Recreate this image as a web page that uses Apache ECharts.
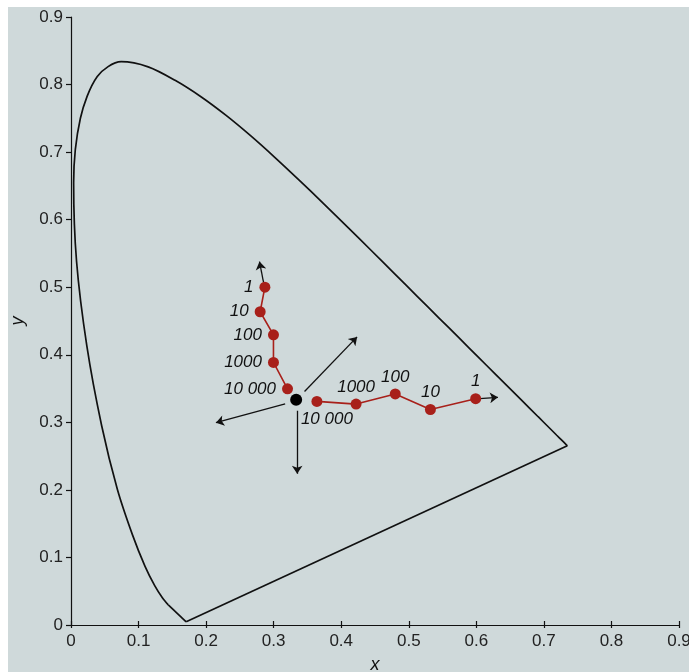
<!DOCTYPE html>
<html>
<head>
<meta charset="utf-8">
<script src="https://cdn.jsdelivr.net/npm/echarts@6/dist/echarts.min.js"></script>
<style>
  html, body { margin: 0; padding: 0; background: #fff; }
  #chart { width: 689px; height: 672px; }
</style>
</head>
<body>
<div id="chart"></div>
<script>
// spectral locus (x, y) from the blue end to the red end
const locus = [
  [0.1440, 0.0297], [0.1355, 0.0399],
  [0.1241, 0.0578], [0.1096, 0.0868], [0.0913, 0.1327], [0.0687, 0.2007],
  [0.0454, 0.2950], [0.0235, 0.4127], [0.0082, 0.5384], [0.0039, 0.6548],
  [0.0139, 0.7502], [0.0389, 0.8120], [0.0743, 0.8338], [0.1142, 0.8262],
  [0.1547, 0.8059], [0.1929, 0.7816], [0.2296, 0.7543], [0.2658, 0.7243],
  [0.3016, 0.6923], [0.3373, 0.6589], [0.3731, 0.6245], [0.4087, 0.5896],
  [0.4441, 0.5547], [0.4788, 0.5202], [0.5125, 0.4866], [0.5448, 0.4544],
  [0.5752, 0.4242], [0.6029, 0.3965], [0.6270, 0.3725], [0.6658, 0.3340],
  [0.6915, 0.3083], [0.7079, 0.2920], [0.7190, 0.2809], [0.7260, 0.2740],
  [0.7347, 0.2653]
];
// straight ends: blue tail and the purple line
const blueTail = [[0.1440, 0.0297], [0.1705, 0.0048]];
const purpleLine = [[0.1705, 0.0048], [0.7347, 0.2653]];

const ratioLabels = ['10 000', '1000', '100', '10', '1'];
const horizX = [0.364, 0.422, 0.480, 0.532, 0.599];
const horizY = [0.331, 0.327, 0.342, 0.319, 0.335];
const vertX = [0.3205, 0.2997, 0.2997, 0.280, 0.287];
const vertY = [0.3496, 0.3886, 0.4296, 0.4637, 0.500];
const whitePoint = [0.3333, 0.3333];

const arrows = [
  [[0.285, 0.507], [0.279, 0.538]],
  [[0.605, 0.335], [0.632, 0.337]],
  [[0.3457, 0.3457], [0.4235, 0.4265]],
  [[0.317, 0.3274], [0.2145, 0.2995]],
  [[0.3348, 0.317], [0.3348, 0.224]]
];

const ticks = [0, 0.1, 0.2, 0.3, 0.4, 0.5, 0.6, 0.7, 0.8, 0.9];

const font = 'Liberation Sans';
const red = '#a8201a';

const chart = echarts.init(document.getElementById('chart'), null, {renderer: 'canvas'});

const axisBase = {
  type: 'value',
  min: 0,
  max: 0.9,
  interval: 0.1,
  splitLine: {show: false},
  axisLine: {show: true, onZero: false, lineStyle: {color: '#111', width: 1.2}},
  axisLabel: {
    color: '#222',
    fontFamily: font,
    fontSize: 17,
    formatter: (v) => {
      const t = ticks.find((k) => Math.abs(k - v) < 1e-6);
      return t === 0 ? '0' : String(t);
    }
  }
};

const pointLabel = (pos, dist) => ({
  show: true,
  position: pos,
  distance: dist,
  fontFamily: font,
  fontStyle: 'italic',
  fontSize: 17,
  color: '#111',
  formatter: (p) => ratioLabels[p.dataIndex]
});

const blackLine = (data, smooth) => ({
  type: 'line',
  data: data,
  symbol: 'none',
  smooth: smooth,
  lineStyle: {color: '#111', width: 1.7},
  z: 3
});

const option = {
  animation: false,
  backgroundColor: '#fff',
  graphic: {
    elements: [{
      type: 'rect',
      z: -100,
      silent: true,
      shape: {x: 8, y: 7, width: 681, height: 665},
      style: {fill: '#cfd9da'}
    }]
  },
  grid: {left: 71, right: 10, top: 17, bottom: 47, containLabel: false, outerBoundsMode: 'none'},
  xAxis: [
    Object.assign({}, axisBase, {
      position: 'bottom',
      name: 'x',
      nameLocation: 'middle',
      nameGap: 31,
      nameTextStyle: {fontFamily: font, fontStyle: 'italic', fontSize: 18, color: '#111'},
      axisTick: {show: true, inside: true, length: 4, lineStyle: {color: '#111', width: 1.2}},
      axisLabel: Object.assign({}, axisBase.axisLabel, {margin: 8})
    }),
    Object.assign({}, axisBase, {
      position: 'bottom',
      axisLine: {show: false},
      axisLabel: {show: false},
      axisTick: {show: true, inside: false, length: 3, lineStyle: {color: '#111', width: 1.2}}
    })
  ],
  yAxis: Object.assign({}, axisBase, {
    name: 'y',
    nameLocation: 'middle',
    nameGap: 44,
    nameTextStyle: {fontFamily: font, fontStyle: 'italic', fontSize: 18, color: '#111'},
    axisTick: {show: true, inside: false, length: 5, lineStyle: {color: '#111', width: 1.2}},
    axisLabel: Object.assign({}, axisBase.axisLabel, {margin: 8})
  }),
  series: [
    blackLine(locus, 0.3),
    blackLine(blueTail, false),
    blackLine(purpleLine, false),
    {
      type: 'lines',
      coordinateSystem: 'cartesian2d',
      symbol: ['none', 'arrow'],
      symbolSize: 8,
      lineStyle: {color: '#111', width: 1.3, opacity: 1},
      data: arrows.map((c) => ({coords: c})),
      z: 4
    },
    {
      type: 'line',
      data: horizX.map((x, i) => [x, horizY[i]]),
      symbol: 'circle',
      symbolSize: 11,
      lineStyle: {color: red, width: 1.6},
      itemStyle: {color: red},
      label: pointLabel('top', 3),
      labelLayout: (p) => p.dataIndex === 0 ? {dx: 10, dy: 35} : {},
      z: 5
    },
    {
      type: 'line',
      data: vertX.map((x, i) => [x, vertY[i]]),
      symbol: 'circle',
      symbolSize: 11,
      lineStyle: {color: red, width: 1.6},
      itemStyle: {color: red},
      label: pointLabel('left', 6),
      z: 5
    },
    {
      type: 'scatter',
      data: [whitePoint],
      symbolSize: 12,
      itemStyle: {color: '#000', opacity: 1},
      z: 6
    }
  ]
};

chart.setOption(option);
</script>
</body>
</html>
